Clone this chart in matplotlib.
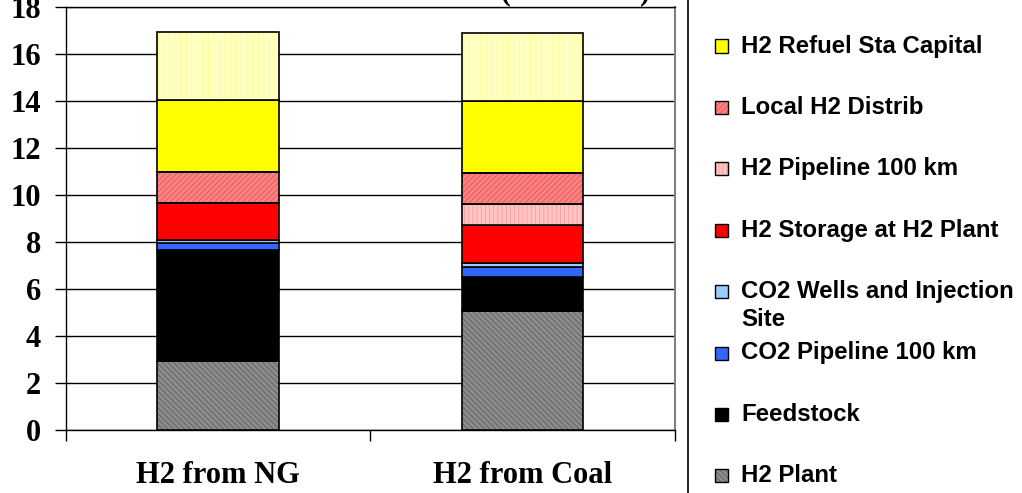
import matplotlib
matplotlib.use("Agg")
import matplotlib.pyplot as plt
from matplotlib.patches import Rectangle
from matplotlib.lines import Line2D

# cost components, bottom to top ($/kg)
routes = ["H2 from NG", "H2 from Coal"]
h2_plant = [2.95, 5.08]
feedstock = [4.71, 1.44]
co2_pipeline = [0.31, 0.40]
co2_wells = [0.10, 0.17]
h2_storage = [1.60, 1.65]
h2_pipeline = [0.00, 0.89]
local_distrib = [1.30, 1.29]
refuel_capital = [3.09, 3.08]
refuel_other = [2.89, 2.91]

series = [
    ("H2 Plant", h2_plant, "#8c8c8c", "\\\\\\\\\\\\", "#5e5e5e"),
    ("Feedstock", feedstock, "#000000", None, None),
    ("CO2 Pipeline 100 km", co2_pipeline, "#3366ff", None, None),
    ("CO2 Wells and Injection\nSite", co2_wells, "#99ccff", None, None),
    ("H2 Storage at H2 Plant", h2_storage, "#ff0000", None, None),
    ("H2 Pipeline 100 km", h2_pipeline, "#ffc4c4", "||||", "#ff9c9c"),
    ("Local H2 Distrib", local_distrib, "#ff8080", "//////", "#d85c5c"),
    ("H2 Refuel Sta Capital", refuel_capital, "#ffff00", None, None),
    (None, refuel_other, "#ffffc4", "|||", "#ffff8c"),
]

W, H = 1022, 493
plt.rcParams["hatch.linewidth"] = 0.6

fig = plt.figure(figsize=(W / 100, H / 100), dpi=100)
ax = fig.add_axes([66 / W, 1 - 430 / H, (674.5 - 66) / W, (430 - 7) / H])

x = [0, 1]
bottom = [0.0, 0.0]
for label, vals, face, hatch, hcol in series:
    if hatch:
        ax.bar(x, vals, 0.4, bottom=bottom, color=face, hatch=hatch,
               edgecolor=hcol, linewidth=0, zorder=3)
        ax.bar(x, vals, 0.4, bottom=bottom, fill=False,
               edgecolor="black", linewidth=1.2, zorder=4)
    else:
        ax.bar(x, vals, 0.4, bottom=bottom, color=face,
               edgecolor="black", linewidth=1.2, zorder=3)
    bottom = [b + v for b, v in zip(bottom, vals)]

ax.set_xlim(-0.5, 1.5)
ax.set_ylim(0, 18)
ax.set_yticks(range(0, 19, 2))
ax.yaxis.grid(True, color="black", linewidth=1.0, zorder=0)
ax.set_axisbelow(True)

# category boundaries get the tick marks, names sit between them
ax.set_xticks([-0.5, 0.5, 1.5])
ax.set_xticklabels([])
ax.set_xticks(x, minor=True)
ax.set_xticklabels(routes, minor=True)
ax.tick_params(axis="x", which="major", direction="out", length=8, width=1)
ax.tick_params(axis="x", which="minor", length=0, pad=22)
ax.tick_params(axis="y", direction="out", length=8, width=1, pad=10)
for lab in ax.get_xticklabels(minor=True):
    lab.set_fontfamily("Liberation Serif")
    lab.set_fontweight("bold")
    lab.set_fontsize(22)
for lab in ax.get_yticklabels():
    lab.set_fontfamily("Liberation Serif")
    lab.set_fontweight("bold")
    lab.set_fontsize(22)

ax.spines["right"].set_color("#808080")
ax.spines["right"].set_linewidth(1.5)
for s in ["left", "top", "bottom"]:
    ax.spines[s].set_color("black")
    ax.spines[s].set_linewidth(1.0)

fig.text(650 / W, 1 + 1 / H, "LEVELIZED H2 COST (2005 USD)", ha="right",
         va="baseline", fontfamily="Liberation Serif", fontweight="bold",
         fontsize=22)

# legend panel on the right
fig.add_artist(Line2D([688 / W, 688 / W], [0, 1], color="black", linewidth=1.2))
slot = 61.4
legend_items = [s for s in series if s[0]][::-1]
for k, (label, vals, face, hatch, hcol) in enumerate(legend_items):
    cy = 46 + k * slot
    box = (715 / W, 1 - (cy + 6.5) / H)
    bw, bh = 13 / W, 13 / H
    if hatch:
        fig.add_artist(Rectangle(box, bw, bh, facecolor=face, hatch=hatch,
                                 edgecolor=hcol, linewidth=0))
        fig.add_artist(Rectangle(box, bw, bh, fill=False, edgecolor="black",
                                 linewidth=1.0))
    else:
        fig.add_artist(Rectangle(box, bw, bh, facecolor=face,
                                 edgecolor="black", linewidth=1.0))
    for j, line in enumerate(label.split("\n")):
        fig.text(741 / W, 1 - (cy + j * 28) / H, line, ha="left", va="center",
                 fontfamily="Liberation Sans", fontweight="bold", fontsize=17.3)

fig.savefig("out.png", dpi=100)
